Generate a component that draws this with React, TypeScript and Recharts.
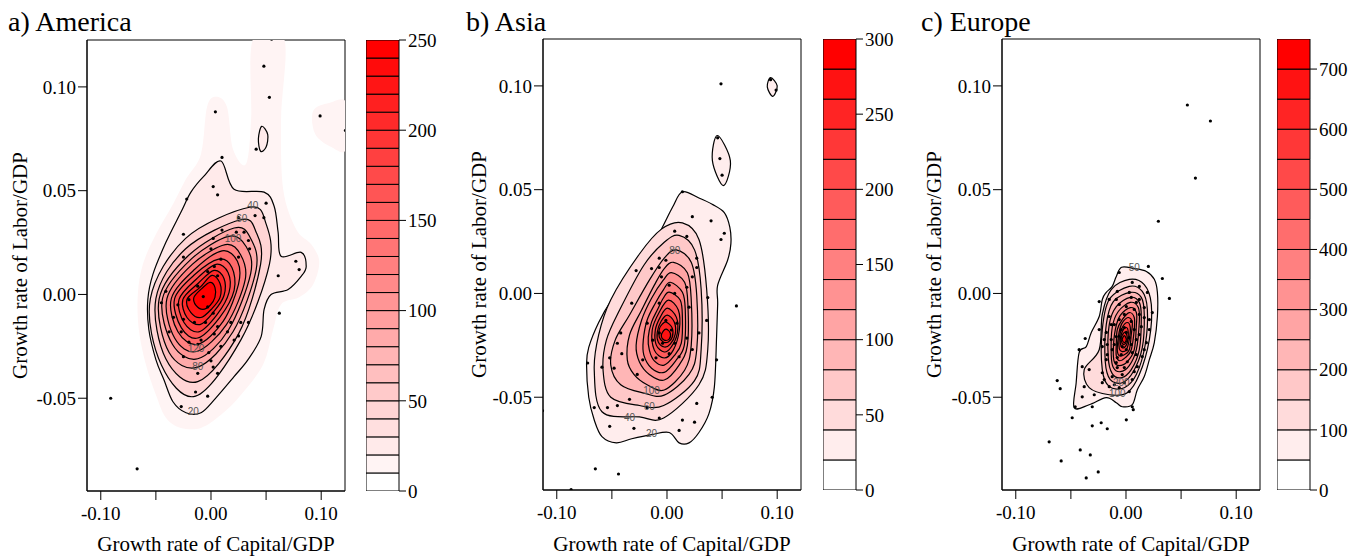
import React from "react";
import {
  ScatterChart,
  Scatter,
  XAxis,
  YAxis,
  ReferenceArea,
  Label,
  BarChart,
  Bar,
} from "recharts";

const FONT = "'Liberation Serif', 'DejaVu Serif', serif";

// shared axes
const xDomain = [-0.1125, 0.1216];
const yDomain = [-0.0947, 0.1226];
const xTicks = [-0.1, -0.05, 0, 0.05, 0.1];
const yTicks = [-0.05, 0, 0.05, 0.1];

// colour bar levels
const americaLevels = [0, 10, 20, 30, 40, 50, 60, 70, 80, 90, 100, 110, 120, 130, 140, 150, 160, 170, 180, 190, 200, 210, 220, 230, 240, 250];
const americaBarTicks = [0, 50, 100, 150, 200, 250];
const asiaLevels = [0, 20, 40, 60, 80, 100, 120, 140, 160, 180, 200, 220, 240, 260, 280, 300];
const asiaBarTicks = [0, 50, 100, 150, 200, 250, 300];
const europeLevels = [0, 50, 100, 150, 200, 250, 300, 350, 400, 450, 500, 550, 600, 650, 700, 750];
const europeBarTicks = [0, 100, 200, 300, 400, 500, 600, 700];

// ---------- America ----------
const americaHalo = [
  [-0.0036, 0.0903], [0.0045, 0.0952], [0.0145, 0.0903], [0.02, 0.07], [0.0318, 0.0628], [0.0364, 0.0845],
  [0.0382, 0.1232], [0.0664, 0.1232], [0.0636, 0.0845], [0.0655, 0.0507], [0.0773, 0.0314], [0.0909, 0.0242],
  [0.0982, 0.0159], [0.0927, 0.0048], [0.08, -0.0014], [0.0636, -0.0048], [0.0564, -0.0169], [0.0473, -0.0338],
  [0.0273, -0.0483], [0.0091, -0.058], [-0.0091, -0.0643], [-0.0273, -0.0643], [-0.0409, -0.0594], [-0.05, -0.0483],
  [-0.0591, -0.0338], [-0.0655, -0.0169], [-0.0664, 0], [-0.0618, 0.0145], [-0.05, 0.029], [-0.0345, 0.0435],
  [-0.0227, 0.0556], [-0.0091, 0.0676],
];
const americaHaloRight = [
  [0.0927, 0.0884], [0.1073, 0.0923], [0.1227, 0.0923], [0.1227, 0.07], [0.1091, 0.071], [0.0945, 0.0773],
];
const americaRings = [
  { level: 20, pts: [
    [0.0091, 0.0643], [0.0209, 0.0507], [0.0482, 0.0493], [0.0573, 0.0425], [0.0609, 0.03], [0.0636, 0.0184],
    [0.0818, 0.0203], [0.0864, 0.0135], [0.0818, 0.0087], [0.07, 0.0024], [0.0545, 0.0], [0.0482, -0.0072],
    [0.0455, -0.0203], [0.0336, -0.0314], [0.0209, -0.0396], [0.0045, -0.0498], [-0.0091, -0.057], [-0.0227, -0.057],
    [-0.0345, -0.0517], [-0.0427, -0.0411], [-0.05, -0.0314], [-0.0564, -0.0169], [-0.0573, -0.0024], [-0.0527, 0.0097],
    [-0.0409, 0.0251], [-0.0273, 0.0396], [-0.0182, 0.0493], [-0.0064, 0.057],
  ] },
  { level: 20, pts: [[0.046, 0.081], [0.0515, 0.077], [0.05, 0.071], [0.045, 0.069], [0.043, 0.075]] },
  { level: 40, pts: [[0.035, 0.042], [0.05, 0.034], [0.053, 0.0145], [0.027, -0.022], [-0.014, -0.049], [-0.045, -0.034], [-0.055, -0.002], [-0.023, 0.027]] },
  { level: 60, pts: [[0.027, 0.036], [0.041, 0.03], [0.045, 0.0145], [0.025, -0.019], [-0.012, -0.042], [-0.041, -0.031], [-0.05, -0.002], [-0.023, 0.022]] },
  { level: 80, pts: [[0.021, 0.032], [0.036, 0.027], [0.041, 0.012], [0.02, -0.018], [-0.012, -0.035], [-0.038, -0.028], [-0.047, -0.002], [-0.02, 0.019]] },
  { level: 100, pts: [[0.016, 0.028], [0.032, 0.023], [0.036, 0.01], [0.016, -0.017], [-0.012, -0.031], [-0.035, -0.024], [-0.044, -0.002], [-0.018, 0.017]] },
  { level: 120, pts: [[0.013, 0.024], [0.027, 0.019], [0.031, 0.007], [0.014, -0.0145], [-0.013, -0.0275], [-0.033, -0.021], [-0.04, -0.002], [-0.017, 0.0145]] },
  { level: 140, pts: [[0.01, 0.021], [0.024, 0.016], [0.025, 0.005], [0.011, -0.013], [-0.012, -0.024], [-0.03, -0.018], [-0.036, -0.002], [-0.015, 0.012]] },
  { level: 160, pts: [[0.007, 0.017], [0.019, 0.013], [0.021, 0.002], [0.008, -0.011], [-0.012, -0.021], [-0.027, -0.016], [-0.033, -0.002], [-0.0145, 0.0097]] },
  { level: 180, pts: [[0.0045, 0.0145], [0.0155, 0.0106], [0.0164, 0.001], [0.0055, -0.0097], [-0.011, -0.018], [-0.0245, -0.0135], [-0.029, -0.0024], [-0.0127, 0.0077]] },
  { level: 200, pts: [[0.0027, 0.0116], [0.0118, 0.0077], [0.0118, -0.0005], [0.0027, -0.0082], [-0.01, -0.0145], [-0.0218, -0.0111], [-0.0255, -0.0024], [-0.0118, 0.0053]] },
  { level: 220, pts: [[0.0009, 0.0092], [0.0082, 0.0053], [0.0082, -0.0014], [0.0009, -0.0068], [-0.0091, -0.0111], [-0.0182, -0.0087], [-0.0218, -0.0024], [-0.01, 0.0034]] },
  { level: 240, pts: [[-0.0009, 0.0058], [0.0036, 0.0034], [0.0036, -0.0014], [-0.0009, -0.0053], [-0.0073, -0.0072], [-0.0136, -0.0053], [-0.0155, -0.0014], [-0.0082, 0.0029]] },
];
const americaDots = [
  [0.055, 0.123], [0.048, 0.11], [0.053, 0.095], [0.004, 0.088], [0.099, 0.086], [0.122, 0.079], [0.041, 0.07],
  [0.01, 0.066], [0.002, 0.052], [0.006, 0.048], [-0.022, 0.046], [0.05, 0.044], [0.04, 0.038], [0.048, 0.037],
  [0.025, 0.037], [0.01, 0.031], [0.023, 0.03], [0.03, 0.03], [-0.025, 0.029], [0.002, 0.027], [0.034, 0.026],
  [0.035, 0.022], [0.0, 0.022], [-0.025, 0.018], [0.025, 0.018], [0.009, 0.017], [0.077, 0.016], [0.08, 0.012],
  [0.061, 0.009], [0.003, 0.0135], [-0.003, 0.011], [0.006, 0.009], [-0.041, 0.0015], [-0.045, -0.004],
  [-0.03, -0.005], [-0.02, -0.0025], [-0.012, 0.004], [-0.007, -0.001], [-0.003, -0.006], [0.002, -0.009],
  [-0.034, -0.011], [-0.025, -0.012], [-0.015, -0.0135], [-0.005, -0.0135], [0.006, -0.0155], [0.018, -0.0135],
  [0.027, -0.0135], [0.034, -0.0135], [-0.038, -0.018], [-0.027, -0.018], [-0.02, -0.023], [-0.009, -0.022],
  [0.003, -0.019], [0.015, -0.018], [0.025, -0.02], [-0.012, -0.024], [-0.002, -0.028], [0.009, -0.025],
  [-0.025, -0.03], [0.0, -0.032], [-0.012, -0.038], [0.002, -0.035], [0.006, -0.038], [0.021, -0.022],
  [0.062, -0.009], [-0.014, -0.047], [-0.003, -0.049], [-0.027, -0.054], [-0.091, -0.05], [-0.067, -0.084],
];
const americaLabels = [
  { x: 0.038, y: 0.0425, t: "40" }, { x: 0.028, y: 0.036, t: "60" }, { x: 0.02, y: 0.0266, t: "100" },
  { x: -0.012, y: -0.035, t: "80" }, { x: -0.0136, y: -0.0266, t: "120" }, { x: -0.016, y: -0.057, t: "20" },
];

// ---------- Asia ----------
const asiaRings = [
  { level: 20, pts: [
    [0.014, 0.049], [0.029, 0.046], [0.041, 0.043], [0.052, 0.039], [0.057, 0.032], [0.058, 0.024], [0.055, 0.016],
    [0.046, 0.004], [0.046, -0.005], [0.045, -0.021], [0.043, -0.045], [0.038, -0.058], [0.029, -0.067], [0.02, -0.072],
    [0.011, -0.072], [0.002, -0.067], [-0.014, -0.068], [-0.032, -0.07], [-0.046, -0.072], [-0.059, -0.069],
    [-0.066, -0.061], [-0.071, -0.05], [-0.073, -0.034], [-0.071, -0.026], [-0.062, -0.014], [-0.05, -0.003],
    [-0.034, 0.008], [-0.025, 0.0125], [-0.007, 0.029], [0.005, 0.0415],
  ] },
  { level: 20, pts: [[0.0457, 0.0761], [0.0575, 0.064], [0.0512, 0.052], [0.0412, 0.064]] },
  { level: 20, pts: [[0.094, 0.104], [0.1, 0.1], [0.096, 0.095], [0.091, 0.0995]] },
  { level: 40, pts: [[0.014, 0.034], [0.029, 0.026], [0.036, 0.002], [0.037, -0.027], [0.029, -0.044], [-0.003, -0.06], [-0.025, -0.0595], [-0.059, -0.057], [-0.066, -0.037], [-0.062, -0.02], [-0.051, -0.003], [-0.025, 0.019], [-0.005, 0.031]] },
  { level: 60, pts: [[0.011, 0.028], [0.025, 0.021], [0.031, 0.002], [0.031, -0.027], [0.025, -0.042], [-0.003, -0.054], [-0.025, -0.054], [-0.051, -0.05], [-0.058, -0.037], [-0.055, -0.0225], [-0.043, -0.008], [-0.021, 0.0136], [-0.0025, 0.0247]] },
  { level: 80, pts: [[0.0085, 0.021], [0.022, 0.015], [0.027, -0.001], [0.027, -0.027], [0.02, -0.039], [-0.0025, -0.049], [-0.021, -0.048], [-0.042, -0.044], [-0.051, -0.0345], [-0.047, -0.0225], [-0.034, -0.0104], [-0.016, 0.0064], [-0.0025, 0.017]] },
  { level: 100, pts: [[0.006, 0.015], [0.0185, 0.01], [0.022, -0.003], [0.022, -0.025], [0.016, -0.037], [-0.0025, -0.0465], [-0.018, -0.044], [-0.03, -0.039], [-0.036, -0.032], [-0.034, -0.02], [-0.023, -0.008], [-0.0115, 0.004], [-0.0025, 0.012]] },
  { level: 120, pts: [[0.004, 0.01], [0.016, 0.0054], [0.019, -0.0056], [0.0185, -0.025], [0.011, -0.0345], [-0.0025, -0.0417], [-0.016, -0.039], [-0.025, -0.033], [-0.028, -0.025], [-0.023, -0.0128], [-0.014, -0.0023], [-0.0034, 0.0064]] },
  { level: 140, pts: [[0.003, 0.0054], [0.014, 0.0006], [0.0166, -0.008], [0.0157, -0.025], [0.0085, -0.032], [-0.0025, -0.038], [-0.014, -0.036], [-0.021, -0.0297], [-0.0215, -0.0225], [-0.018, -0.0128], [-0.0106, -0.0047], [-0.0034, 0.0016]] },
  { level: 160, pts: [[0.002, 0.0006], [0.012, -0.0032], [0.014, -0.0119], [0.013, -0.0239], [0.0066, -0.03], [-0.0025, -0.0345], [-0.0115, -0.0325], [-0.016, -0.0273], [-0.017, -0.021], [-0.014, -0.0138], [-0.0088, -0.008], [-0.0034, -0.0023]] },
  { level: 180, pts: [[0.0012, -0.0032], [0.0103, -0.008], [0.0112, -0.0176], [0.0057, -0.0273], [-0.0025, -0.0311], [-0.0115, -0.0273], [-0.0134, -0.0176], [-0.007, -0.009]] },
  { level: 200, pts: [[0.0003, -0.0071], [0.0085, -0.0114], [0.0094, -0.0191], [0.0039, -0.0258], [-0.0025, -0.0282], [-0.0097, -0.0249], [-0.0106, -0.0176], [-0.0061, -0.0114]] },
  { level: 220, pts: [[0.0003, -0.0104], [0.0066, -0.0138], [0.0075, -0.0196], [0.003, -0.0244], [-0.0025, -0.0258], [-0.0079, -0.0234], [-0.0088, -0.0186], [-0.0052, -0.0133]] },
  { level: 240, pts: [[-0.0006, -0.0138], [0.0048, -0.0167], [0.0048, -0.021], [0.0012, -0.0234], [-0.0034, -0.0234], [-0.007, -0.021], [-0.007, -0.0172], [-0.0043, -0.0148]] },
  { level: 260, pts: [[-0.0006, -0.0172], [0.003, -0.0191], [0.002, -0.022], [-0.0025, -0.0225], [-0.0052, -0.0205], [-0.0034, -0.0181]] },
];
const asiaDots = [
  [0.049, 0.101], [0.094, 0.103], [0.099, 0.098], [0.046, 0.075], [0.048, 0.065], [0.05, 0.057], [0.014, 0.049],
  [0.023, 0.037], [0.04, 0.035], [0.052, 0.029], [0.049, 0.026], [0.007, 0.03], [0.018, 0.0275], [-0.028, 0.011],
  [-0.014, 0.012], [-0.007, 0.017], [-0.001, 0.016], [0.027, 0.017], [0.027, 0.0125], [0.023, 0.008],
  [-0.007, 0.0125], [-0.005, 0.008], [0.002, 0.004], [0.007, 0.0], [0.018, 0.003], [0.037, -0.002],
  [-0.032, -0.0047], [0.063, -0.006], [-0.042, -0.019], [-0.045, -0.024], [-0.041, -0.029], [-0.052, -0.031],
  [-0.048, -0.036], [-0.072, -0.0335], [-0.059, -0.0355], [-0.066, -0.055], [-0.054, -0.055], [-0.045, -0.054],
  [-0.034, -0.051], [-0.007, -0.0047], [-0.001, -0.013], [-0.007, -0.019], [0.004, -0.0176], [-0.013, -0.0225],
  [-0.004, -0.024], [0.007, -0.024], [0.002, -0.029], [-0.022, -0.032], [-0.01, -0.031], [0.011, -0.0305],
  [0.018, -0.0215], [0.023, -0.027], [0.029, -0.019], [0.036, -0.013], [0.009, -0.0143], [-0.018, -0.0143],
  [0.02, -0.0066], [0.045, -0.032], [0.041, -0.05], [0.027, -0.053], [-0.007, -0.06], [0.014, -0.061],
  [0.025, -0.062], [-0.052, -0.064], [-0.03, -0.065], [0.011, -0.066], [-0.018, -0.055], [-0.027, -0.039],
  [-0.065, -0.0845], [-0.044, -0.087], [-0.087, -0.0945], [-0.113, -0.0565],
];
const asiaLabels = [
  { x: -0.014, y: -0.068, t: "20" }, { x: -0.034, y: -0.06, t: "40" }, { x: -0.016, y: -0.0547, t: "60" },
  { x: -0.014, y: -0.0474, t: "100" }, { x: 0.007, y: 0.0203, t: "80" },
];

// ---------- Europe ----------
const europeRings = [
  { level: 50, pts: [
    [-0.004, 0.0126], [0.0075, 0.012], [0.0185, 0.0106], [0.0257, 0.0068], [0.0285, 0.0005], [0.0285, -0.0111],
    [0.0257, -0.0237], [0.0212, -0.0319], [0.0166, -0.04], [0.0103, -0.0464], [0.0057, -0.0536], [-0.0034, -0.0546],
    [-0.0088, -0.0527], [-0.0179, -0.0502], [-0.0334, -0.0536], [-0.047, -0.0551], [-0.0452, -0.043],
    [-0.0425, -0.0285], [-0.036, -0.0256], [-0.0315, -0.0188], [-0.0243, -0.0111], [-0.0215, -0.0029],
    [-0.0179, 0.0005], [-0.0125, 0.0034], [-0.0088, 0.0082],
  ] },
  { level: 100, pts: [[0.003, 0.0068], [0.0166, 0.0043], [0.023, -0.0053], [0.0212, -0.0222], [0.0121, -0.0391], [0.0012, -0.0478], [-0.0152, -0.0488], [-0.0334, -0.0454], [-0.0379, -0.0367], [-0.0243, -0.0271], [-0.0215, -0.0101], [-0.0134, 0.0019]] },
  { level: 150, pts: [[0.003, 0.0034], [0.0148, 0.001], [0.0194, -0.0077], [0.0175, -0.0246], [0.0094, -0.0391], [-0.0015, -0.0454], [-0.0152, -0.0449], [-0.0215, -0.0367], [-0.0215, -0.0174], [-0.0152, -0.0029]] },
  { level: 200, pts: [[0.0039, 0.0005], [0.0139, -0.0019], [0.0166, -0.0101], [0.0148, -0.0261], [0.0066, -0.0377], [-0.0034, -0.043], [-0.0143, -0.0415], [-0.0188, -0.0329], [-0.0179, -0.015], [-0.0115, -0.0039]] },
  { level: 250, pts: [[0.0039, -0.0019], [0.0121, -0.0043], [0.0139, -0.0116], [0.0121, -0.0271], [0.0048, -0.0367], [-0.0043, -0.0406], [-0.0125, -0.0386], [-0.0161, -0.0309], [-0.0152, -0.015], [-0.0088, -0.0063]] },
  { level: 300, pts: [[0.0039, -0.0043], [0.0112, -0.0068], [0.0121, -0.0135], [0.0094, -0.0271], [0.003, -0.0348], [-0.0052, -0.0377], [-0.0115, -0.0357], [-0.0134, -0.0295], [-0.0125, -0.0164], [-0.007, -0.0087]] },
  { level: 350, pts: [[0.0039, -0.0068], [0.0094, -0.0092], [0.0094, -0.0155], [0.0075, -0.0271], [0.0012, -0.0329], [-0.0061, -0.0348], [-0.0106, -0.0329], [-0.0115, -0.0271], [-0.0097, -0.0174], [-0.0052, -0.0106]] },
  { level: 400, pts: [[0.003, -0.0092], [0.0075, -0.0116], [0.0075, -0.0174], [0.0048, -0.0271], [-0.0006, -0.0309], [-0.0061, -0.0324], [-0.0088, -0.03], [-0.0088, -0.0246], [-0.0079, -0.0174], [-0.0034, -0.0126]] },
  { level: 450, pts: [[0.0021, -0.0116], [0.0057, -0.014], [0.0048, -0.0198], [0.003, -0.0271], [-0.0015, -0.0295], [-0.0061, -0.03], [-0.0079, -0.0271], [-0.007, -0.0213], [-0.0052, -0.0164], [-0.0025, -0.0135]] },
  { level: 500, pts: [[0.0012, -0.014], [0.0039, -0.0164], [0.003, -0.0222], [0.0003, -0.0271], [-0.0034, -0.028], [-0.0061, -0.0266], [-0.0061, -0.0213], [-0.0034, -0.0164]] },
  { level: 550, pts: [[0.0003, -0.0164], [0.0021, -0.0188], [0.0012, -0.0237], [-0.0015, -0.0261], [-0.0043, -0.0256], [-0.0052, -0.0222], [-0.0034, -0.0184]] },
  { level: 600, pts: [[-0.0006, -0.0188], [0.0012, -0.0213], [-0.0006, -0.0242], [-0.0034, -0.0242], [-0.0043, -0.0213], [-0.0025, -0.0193]] },
  { level: 650, pts: [[-0.0015, -0.0203], [0.0003, -0.0222], [-0.0015, -0.0237], [-0.0034, -0.0222]] },
];
const europeDots = [
  [0.0557, 0.0908], [0.0766, 0.0831], [0.063, 0.0556], [0.0294, 0.0348], [0.0203, 0.013], [0.033, 0.0072],
  [0.0394, -0.0024], [-0.0243, -0.0039], [-0.037, -0.0217], [-0.0425, -0.0271], [-0.0624, -0.042], [-0.0597, -0.0459],
  [-0.0461, -0.0546], [-0.0488, -0.0599], [-0.0306, -0.0638], [-0.0225, -0.0623], [-0.017, -0.0652], [0.0003, -0.0609],
  [0.0066, -0.056], [-0.0697, -0.0715], [-0.0588, -0.0807], [-0.0415, -0.0754], [-0.0324, -0.0778], [-0.0361, -0.0889],
  [-0.0252, -0.086], [-0.0397, -0.0353], [-0.0334, -0.0367], [-0.0379, -0.0449], [-0.0397, -0.0498], [-0.0288, -0.0488],
  [-0.0215, -0.043], [-0.0306, -0.0546], [0.0057, -0.0546], [-0.0061, 0.0101], [0.0057, 0.0053], [0.0121, 0.0034],
  [0.0194, 0.0005], [0.003, 0.0005], [-0.0088, -0.0029], [0.0003, -0.0063], [0.0094, -0.0043], [0.0166, -0.0068],
  [0.0239, -0.0092], [-0.0152, -0.0111], [-0.0061, -0.0126], [0.0048, -0.0135], [0.0139, -0.016], [0.0212, -0.0174],
  [-0.0179, -0.0188], [-0.0088, -0.0208], [0.0003, -0.0188], [0.0094, -0.0222], [0.0185, -0.0237], [-0.0215, -0.0256],
  [-0.0125, -0.0271], [-0.0034, -0.0256], [0.0057, -0.0285], [0.0148, -0.0304], [-0.0179, -0.0319], [-0.0088, -0.0333],
  [0.0012, -0.0329], [0.0103, -0.0353], [-0.0215, -0.0382], [-0.0125, -0.0401], [-0.0034, -0.0391], [0.0057, -0.0415],
  [-0.0152, -0.0449], [-0.0061, -0.0454], [0.003, -0.0473], [-0.0106, -0.015], [-0.0015, -0.0101], [0.0075, -0.0174],
  [-0.0134, -0.0222], [-0.0043, -0.0295], [0.0048, -0.0246], [-0.0079, -0.0357], [0.0121, -0.0101], [-0.017, -0.0246],
  [-0.0015, -0.0164], [-0.0152, -0.0029], [-0.0061, -0.0053], [0.0075, -0.0077], [0.0166, -0.0116], [-0.0134, -0.015],
  [-0.0043, -0.0174], [0.003, -0.0213], [0.0121, -0.0198], [-0.0197, -0.0222], [-0.0106, -0.0246], [0.0003, -0.0271],
  [0.0094, -0.0295], [-0.017, -0.0295], [-0.0079, -0.0309], [-0.0015, -0.0357], [0.0075, -0.0377], [-0.0197, -0.0415],
  [-0.0106, -0.044], [-0.0015, -0.043], [0.0121, -0.0029], [0.0212, -0.0126], [0.0166, -0.0271], [-0.0243, -0.0174],
  [-0.0079, 0.001], [0.0048, -0.0019],
];
const europeLabels = [
  { x: 0.0076, y: 0.0121, t: "50" }, { x: -0.0079, y: -0.0488, t: "100" }, { x: -0.0043, y: -0.0435, t: "200" },
];

const toPts = (arr: number[][]) => arr.map(([x, y]) => ({ x, y }));

function bandColor(i: number, n: number) {
  const t = i / (n - 1);
  const g = Math.round(255 * (1 - t));
  return `rgb(255,${g},${g})`;
}

function levelColor(level: number, levels: number[]) {
  const n = levels.length - 1;
  const step = levels[1] - levels[0];
  return bandColor(Math.min(n - 1, Math.floor(level / step)), n);
}

// closed catmull-rom path through the scaled points
function closedPath(points: { x: number; y: number }[]) {
  const n = points.length;
  let d = `M${points[0].x},${points[0].y}`;
  for (let i = 0; i < n; i++) {
    const p0 = points[(i - 1 + n) % n];
    const p1 = points[i];
    const p2 = points[(i + 1) % n];
    const p3 = points[(i + 2) % n];
    const c1x = p1.x + (p2.x - p0.x) / 6;
    const c1y = p1.y + (p2.y - p0.y) / 6;
    const c2x = p2.x - (p3.x - p1.x) / 6;
    const c2y = p2.y - (p3.y - p1.y) / 6;
    d += `C${c1x},${c1y} ${c2x},${c2y} ${p2.x},${p2.y}`;
  }
  return d + "Z";
}

const tickStyle = { fill: "#000", fontSize: 19, fontFamily: FONT };

const fmtX = (v: number) =>
  Math.abs(v) < 1e-9 || Math.abs(Math.abs(v) - 0.1) < 1e-9 ? v.toFixed(2) : "";

function Panel({ left, top, bottom, rings, halos, dots, labels, levels, yLabelOffset }: any) {
  return (
    <div style={{ position: "absolute", left, top: 0 }}>
      <ScatterChart width={350} height={558} margin={{ top, right: 5, bottom: 0, left: 0 }}>
        <XAxis
          type="number"
          dataKey="x"
          domain={xDomain}
          allowDataOverflow
          ticks={xTicks}
          interval={0}
          tickFormatter={fmtX}
          height={558 - bottom}
          tickSize={9}
          tickMargin={7}
          stroke="#000"
          tick={tickStyle}
        >
          <Label value="Growth rate of Capital/GDP" position="insideBottom" offset={7} fill="#000" fontSize={21} fontFamily={FONT} />
        </XAxis>
        <YAxis
          type="number"
          dataKey="y"
          domain={yDomain}
          allowDataOverflow
          ticks={yTicks}
          interval={0}
          tickFormatter={(v: number) => v.toFixed(2)}
          width={87}
          tickSize={9}
          tickMargin={2}
          stroke="#000"
          tick={tickStyle}
        >
          <Label
            value="Growth rate of Labor/GDP"
            angle={-90}
            position="insideLeft"
            offset={yLabelOffset}
            fill="#000"
            fontSize={21}
            fontFamily={FONT}
            style={{ textAnchor: "middle" }}
          />
        </YAxis>
        {halos.map((h: number[][], i: number) => (
          <Scatter
            key={"h" + i}
            data={toPts(h)}
            lineType="joint"
            line={(p: any) => <path d={closedPath(p.points)} fill={levelColor(10, levels)} stroke="none" />}
            shape={() => <g />}
            isAnimationActive={false}
          />
        ))}
        {rings.map((r: any, i: number) => (
          <Scatter
            key={"r" + i}
            data={toPts(r.pts)}
            lineType="joint"
            line={(p: any) => (
              <path d={closedPath(p.points)} fill={levelColor(r.level, levels)} stroke="#000" strokeWidth={1.2} />
            )}
            shape={() => <g />}
            isAnimationActive={false}
          />
        ))}
        <Scatter
          data={toPts(dots)}
          shape={(p: any) => <circle cx={p.cx} cy={p.cy} r={1.6} fill="#000" />}
          isAnimationActive={false}
        />
        <Scatter
          data={labels}
          shape={(p: any) => (
            <text x={p.cx} y={p.cy} fontSize={10} fill="#555" textAnchor="middle" dominantBaseline="middle" fontFamily="'Liberation Sans', sans-serif">
              {p.payload.t}
            </text>
          )}
          isAnimationActive={false}
        />
        <ReferenceArea x1={xDomain[0]} x2={xDomain[1]} y1={yDomain[0]} y2={yDomain[1]} fill="none" stroke="#000" strokeWidth={1} />
      </ScatterChart>
    </div>
  );
}

function ColorBar({ left, top, bottom, levels, ticks }: any) {
  const n = levels.length - 1;
  const row: any = { name: "bar" };
  for (let i = 0; i < n; i++) row["b" + i] = levels[i + 1] - levels[i];
  return (
    <div style={{ position: "absolute", left, top: 0 }}>
      <BarChart width={33 + 60} height={558} data={[row]} margin={{ top, right: 0, bottom: 558 - bottom, left: 0 }} barCategoryGap={0}>
        <XAxis dataKey="name" hide />
        <YAxis
          orientation="right"
          type="number"
          domain={[levels[0], levels[n]]}
          allowDataOverflow
          ticks={ticks}
          interval={0}
          width={60}
          tickSize={7}
          tickMargin={2}
          axisLine={false}
          stroke="#000"
          tick={tickStyle}
        />
        {Array.from({ length: n }, (_, i) => (
          <Bar key={i} dataKey={"b" + i} stackId="s" fill={bandColor(i, n)} stroke="#000" strokeWidth={1} isAnimationActive={false} />
        ))}
      </BarChart>
    </div>
  );
}

const titleStyle: any = { position: "absolute", top: 8, fontSize: 28, lineHeight: 1, fontFamily: FONT, color: "#000", whiteSpace: "nowrap" };

export default function App() {
  return (
    <div style={{ position: "absolute", left: 0, top: 0, width: 1362, height: 558, background: "#fff", fontFamily: FONT }}>
      <div style={{ ...titleStyle, left: 8 }}>a) America</div>
      <div style={{ ...titleStyle, left: 466 }}>b) Asia</div>
      <div style={{ ...titleStyle, left: 921 }}>c) Europe</div>

      <Panel left={0} top={40} bottom={491} rings={americaRings} halos={[americaHalo, americaHaloRight]} dots={americaDots} labels={americaLabels} levels={americaLevels} yLabelOffset={20} />
      <ColorBar left={366} top={40} bottom={491} levels={americaLevels} ticks={americaBarTicks} />

      <Panel left={456} top={39} bottom={490} rings={asiaRings} halos={[]} dots={asiaDots} labels={asiaLabels} levels={asiaLevels} yLabelOffset={23} />
      <ColorBar left={823} top={39} bottom={490} levels={asiaLevels} ticks={asiaBarTicks} />

      <Panel left={915} top={39} bottom={490} rings={europeRings} halos={[]} dots={europeDots} labels={europeLabels} levels={europeLevels} yLabelOffset={19} />
      <ColorBar left={1277} top={39} bottom={490} levels={europeLevels} ticks={europeBarTicks} />
    </div>
  );
}
